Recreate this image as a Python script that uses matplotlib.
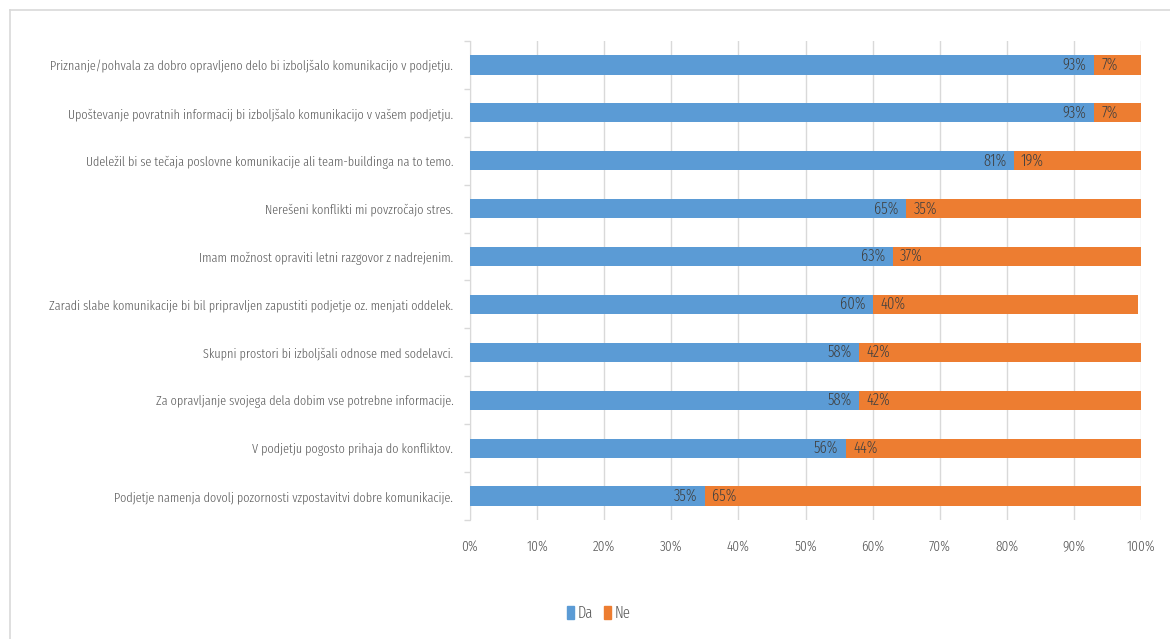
import matplotlib.pyplot as plt
from matplotlib.lines import Line2D
from matplotlib.patches import Patch
from matplotlib.ticker import FixedLocator, FuncFormatter

# Survey statements (top to bottom) and share of answers in percent
statements = [
    "Priznanje/pohvala za dobro opravljeno delo bi izboljšalo komunikacijo v podjetju.",
    "Upoštevanje povratnih informacij bi izboljšalo komunikacijo v vašem podjetju.",
    "Udeležil bi se tečaja poslovne komunikacije ali team-buildinga na to temo.",
    "Nerešeni konflikti mi povzročajo stres.",
    "Imam možnost opraviti letni razgovor z nadrejenim.",
    "Zaradi slabe komunikacije bi bil pripravljen zapustiti podjetje oz. menjati oddelek.",
    "Skupni prostori bi izboljšali odnose med sodelavci.",
    "Za opravljanje svojega dela dobim vse potrebne informacije.",
    "V podjetju pogosto prihaja do konfliktov.",
    "Podjetje namenja dovolj pozornosti vzpostavitvi dobre komunikacije.",
]
da = [93, 93, 81, 65, 63, 60, 58, 58, 56, 35]
ne = [7, 7, 19, 35, 37, 39.5, 42, 42, 44, 65]
series_names = ["Da", "Ne"]

BLUE = "#5B9BD5"
ORANGE = "#ED7D31"
GRID = "#D9D9D9"
TXT = "#595959"
LBL = "#404040"
FS = 9.6

plt.rcParams["font.family"] = ["Fira Sans Extra Condensed", "DejaVu Sans"]
plt.rcParams["font.weight"] = 300

fig = plt.figure(figsize=(11.7, 6.39), dpi=100)
ax = fig.add_axes([470 / 1170, 1 - 520 / 639, 671 / 1170, 479 / 639])

y = list(range(len(statements)))
ax.barh(y, da, height=0.4, color=BLUE, zorder=3)
ax.barh(y, ne, left=da, height=0.4, color=ORANGE, zorder=3)

# value labels just inside the boundary between the two segments
for yi, a, b in zip(y, da, ne):
    ax.text(a - 1.1, yi, f"{round(a)}%", ha="right", va="center",
            fontsize=11.5, color=LBL, zorder=4)
    ax.text(a + 1.1, yi, f"{round(b)}%", ha="left", va="center",
            fontsize=11.5, color=LBL, zorder=4)

ax.set_xlim(0, 100)
ax.set_ylim(len(statements) - 0.5, -0.5)
ax.set_xticks(range(0, 101, 10))
ax.xaxis.set_major_formatter(FuncFormatter(lambda v, p: f"{int(v)}%"))
ax.tick_params(axis="x", length=0, pad=14, labelsize=10.5, labelcolor=TXT)
ax.grid(axis="x", color=GRID, linewidth=1, zorder=0)

ax.set_yticks(y)
ax.set_yticklabels(statements)
ax.tick_params(axis="y", which="major", length=0, pad=12, labelsize=FS, labelcolor=TXT)
ax.yaxis.set_minor_locator(FixedLocator([i - 0.5 for i in range(len(statements) + 1)]))
ax.tick_params(axis="y", which="minor", length=4, color=GRID, width=1)

for side in ("top", "right", "bottom"):
    ax.spines[side].set_visible(False)
ax.spines["left"].set_color(GRID)

# chart area border
fig.add_artist(Line2D([10 / 1170, 10 / 1170], [0, 1 - 10 / 639], color=GRID, lw=1.2,
                      transform=fig.transFigure))
fig.add_artist(Line2D([10 / 1170, 1], [1 - 10 / 639, 1 - 10 / 639], color=GRID, lw=1.2,
                      transform=fig.transFigure))

handles = [Patch(color=BLUE), Patch(color=ORANGE)]
fig.legend(handles, series_names, loc="center", bbox_to_anchor=(599 / 1170, 1 - 613 / 639),
           ncol=2, frameon=False, fontsize=11.5, labelcolor=TXT,
           handlelength=0.4, handleheight=0.9, handletextpad=0.25, columnspacing=0.7)

fig.savefig("out.png", dpi=100)
